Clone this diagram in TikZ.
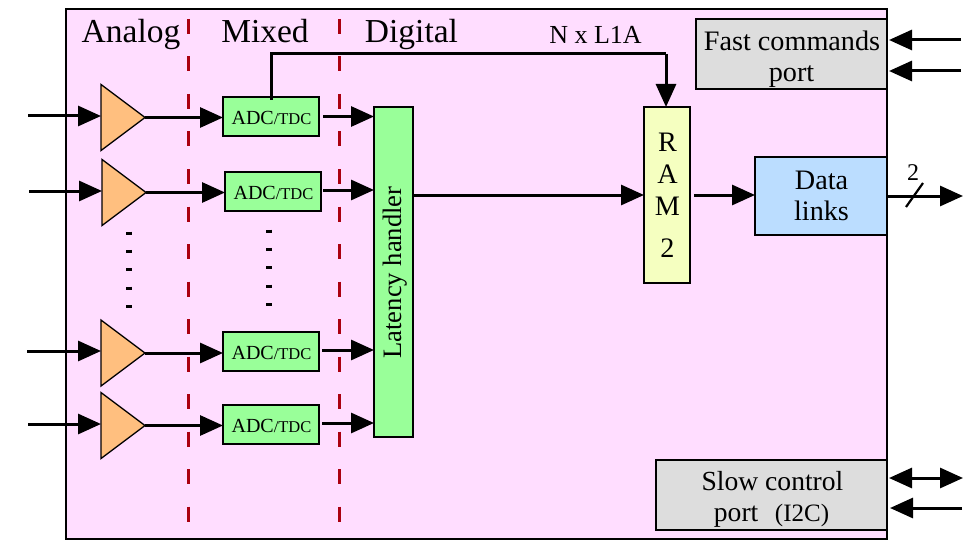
\documentclass[tikz,border=0pt]{standalone}
\usepackage{fontspec}
\setmainfont{Liberation Serif}
\usetikzlibrary{arrows.meta,shapes.geometric}
\definecolor{chipfill}{HTML}{FFDDFF}
\definecolor{ampfill}{HTML}{FFBF7F}
\definecolor{adcfill}{HTML}{99FF99}
\definecolor{ramfill}{HTML}{F5FFC0}
\definecolor{linkfill}{HTML}{BBDDFF}
\definecolor{portfill}{HTML}{DDDDDD}
\definecolor{sepred}{HTML}{AA0010}
\newcommand{\adctext}{\rule{0pt}{17pt}\hspace*{1pt}{\fontsize{20}{22}\selectfont ADC}{\fontsize{16.5}{18}\selectfont /TDC}}
\tikzset{
  x=1pt,y=-1pt,
  boxnode/.style={draw=black,line width=2pt,inner sep=0pt,outer sep=0pt,align=center,font=\fontsize{28.2}{31}\selectfont},
  adcbox/.style={boxnode,fill=adcfill,minimum width=96pt,minimum height=39pt},
  amp/.style={draw=black,line width=1.3pt,fill=ampfill,isosceles triangle,isosceles triangle stretches,
    minimum width=66pt,minimum height=44pt,inner sep=0pt,outer sep=0pt,anchor=lower side},
  flow/.style={line width=3pt,-{Triangle[length=23pt,width=20pt]}},
  sep/.style={draw=sepred,line width=3pt,dash pattern=on 15pt off 22.5pt},
  heading/.style={anchor=base,inner sep=0pt,font=\fontsize{33.5}{36}\selectfont},
  vdots/.style={line width=6pt,dash pattern=on 3pt off 15.4pt},
}
\begin{document}
\begin{tikzpicture}
\useasboundingbox (0,0) rectangle (973,548);
\node[boxnode,fill=chipfill,minimum width=821pt,minimum height=530pt] (chip) at (476.5,274) {};
\coordinate (s1t) at (188,19); \coordinate (s1b) at (188,525);
\coordinate (s2t) at (339,19); \coordinate (s2b) at (339,525);
\draw[sep] (s1t) -- (s1b);
\draw[sep] (s2t) -- (s2b);
\node[heading] (hA) at (131,43) {Analog};
\node[heading] (hM) at (265,43) {Mixed};
\node[heading] (hD) at (411.5,43) {Digital};
\node[anchor=base,inner sep=0pt,font=\fontsize{26}{28}\selectfont] (nl) at (595.5,44) {N x L1A};
% amplifiers
\node[amp] (a1) at (101,117.5) {};
\node[amp] (a2) at (102,192.5) {};
\node[amp] (a3) at (101,353) {};
\node[amp] (a4) at (101,425.5) {};
% ADCs
\node[adcbox] (c1) at (271,116.5) {\adctext};
\node[adcbox] (c2) at (273,191) {\adctext};
\node[adcbox] (c3) at (271,351.5) {\adctext};
\node[adcbox] (c4) at (271,424) {\adctext};
% blocks
\node[boxnode,fill=adcfill,minimum width=39pt,minimum height=330pt] (lat) at (393.5,272) {};
\node[rotate=90,inner sep=0pt,font=\fontsize{26.6}{28}\selectfont] (latt) at (395,272.5) {Latency handler};
\node[boxnode,fill=ramfill,minimum width=46pt,minimum height=176pt] (ram) at (667,195)
  {\hspace*{1pt}R\\[1pt]\hspace*{1pt}A\\[1pt]\hspace*{1pt}M\\[11pt]\hspace*{1pt}2};
\node[boxnode,fill=linkfill,minimum width=132pt,minimum height=78pt] (dl) at (821,196) {\hspace*{1pt}Data\\\hspace*{1pt}links};
\node[boxnode,fill=portfill,minimum width=191pt,minimum height=70pt] (fast) at (791.5,54) {\rule{0pt}{30pt}\hspace*{1pt}Fast commands\\port};
\node[boxnode,fill=portfill,minimum width=231pt,minimum height=70pt,font=\fontsize{27.6}{31}\selectfont] (slow) at (771.5,495) {\rule{0pt}{28pt}\hspace*{2pt}Slow control\\port\hspace{0.35em} {\fontsize{25}{31}\selectfont (I2C)}};
% free ends
\coordinate (i1) at (28,116); \coordinate (i2) at (29,191);
\coordinate (i3) at (27,351); \coordinate (i4) at (28,424);
% inputs
\draw[flow] (i1) -- (i1 -| a1.lower side);
\draw[flow] (i2) -- (i2 -| a2.lower side);
\draw[flow] (i3) -- (i3 -| a3.lower side);
\draw[flow] (i4) -- (i4 -| a4.lower side);
% amp to ADC
\draw[flow] (a1.apex) -- (a1.apex -| c1.west);
\draw[flow] (a2.apex) -- (a2.apex -| c2.west);
\draw[flow] (a3.apex) -- (a3.apex -| c3.west);
\draw[flow] (a4.apex) -- (a4.apex -| c4.west);
% ADC to latency
\draw[flow] ([xshift=4pt]c1.east) -- (c1.east -| lat.west);
\draw[flow] ([xshift=2pt,yshift=1pt]c2.east) -- ([yshift=1pt]c2.east -| lat.west);
\draw[flow] ([xshift=3pt,yshift=1.5pt]c3.east) -- ([yshift=1.5pt]c3.east -| lat.west);
\draw[flow] ([xshift=3pt,yshift=1pt]c4.east) -- ([yshift=1pt]c4.east -| lat.west);
% main path
\draw[flow] (lat.east |- ram.west) -- (ram.west);
\draw[flow] ([xshift=4pt]ram.east) -- (ram.east -| dl.west);
\coordinate (dout) at (963,196);
\draw[flow] (dl.east) -- (dout);
\coordinate (sl1) at (906,207); \coordinate (sl2) at (923,183);
\draw[line width=2.2pt] (sl1) -- (sl2);
\node[anchor=base,inner sep=0pt,font=\fontsize{24}{26}\selectfont] (two) at (913,180) {2};
% feedback
\coordinate (fbA) at (271,54); \coordinate (fbB) at (666,54);
\draw[line width=3pt] ([yshift=-3pt]c1.north) -- (fbA) -- (fbB);
\draw[flow] (fbB) -- (fbB |- ram.north);
% ports
\coordinate (f1) at (961,40); \coordinate (f2) at (961,71);
\draw[flow] (f1) -- ([xshift=2pt]f1 -| fast.east);
\draw[flow] (f2) -- ([xshift=2pt]f2 -| fast.east);
\coordinate (p1) at (963,478); \coordinate (p2) at (962,508);
\draw[line width=3pt,{Triangle[length=23pt,width=20pt]}-{Triangle[length=23pt,width=20pt]}] ([xshift=2pt]p1 -| slow.east) -- (p1);
\draw[flow] (p2) -- ([xshift=3pt]p2 -| slow.east);
% vertical dots
\coordinate (d1t) at (129,231.5); \coordinate (d1b) at (129,311);
\coordinate (d2t) at (269,229.5); \coordinate (d2b) at (269,309);
\draw[vdots] (d1t) -- (d1b);
\draw[vdots] (d2t) -- (d2b);
\end{tikzpicture}
\end{document}
